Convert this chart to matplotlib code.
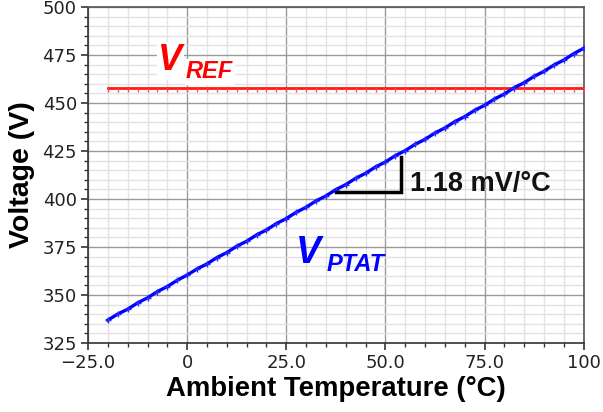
import matplotlib
matplotlib.use("Agg")
import matplotlib.pyplot as plt
from matplotlib.ticker import MultipleLocator, FixedLocator, FixedFormatter

# ---- data ----
temp_c = [-20, -17.5, -15, -12.5, -10, -7.5, -5, -2.5, 0, 2.5, 5, 7.5, 10, 12.5, 15, 17.5,
          20, 22.5, 25, 27.5, 30, 32.5, 35, 37.5, 40, 42.5, 45, 47.5, 50, 52.5, 55, 57.5,
          60, 62.5, 65, 67.5, 70, 72.5, 75, 77.5, 80, 82.5, 85, 87.5, 90, 92.5, 95, 97.5, 100]
v_ptat = [336.9, 340.1, 342.6, 345.9, 348.5, 351.8, 354.4, 357.7, 360.4, 363.6, 366.2, 369.5,
          372.1, 375.4, 378.0, 381.3, 383.9, 387.2, 389.8, 393.1, 395.7, 399.0, 401.6, 404.9,
          407.5, 410.8, 413.4, 416.7, 419.3, 422.6, 425.2, 428.5, 431.1, 434.4, 437.0, 440.3,
          442.9, 446.2, 448.8, 452.1, 454.7, 458.0, 460.6, 463.9, 466.5, 469.8, 472.4, 475.7, 478.5]
v_ref = [457.6] * len(temp_c)

x_ticks = [-25, 0, 25, 50, 75, 100]
x_tick_labels = ["\u221225.0", "0", "25.0", "50.0", "75.0", "100"]
y_ticks = [325, 350, 375, 400, 425, 450, 475, 500]
y_tick_labels = ["325", "350", "375", "400", "425", "450", "475", "500"]

# slope annotation triangle (data coords)
tri_x = [37.5, 54.0, 54.0]
tri_y = [403.4, 403.4, 421.7]

fig = plt.figure(figsize=(6.03, 4.12), dpi=100)
ax = fig.add_axes([0.146, 0.1675, 0.822, 0.8155])

ax.set_xlim(-25, 100)
ax.set_ylim(325, 500)

ax.xaxis.set_major_locator(FixedLocator(x_ticks))
ax.xaxis.set_major_formatter(FixedFormatter(x_tick_labels))
ax.yaxis.set_major_locator(FixedLocator(y_ticks))
ax.yaxis.set_major_formatter(FixedFormatter(y_tick_labels))
ax.xaxis.set_minor_locator(MultipleLocator(5))
ax.yaxis.set_minor_locator(MultipleLocator(5))

ax.grid(which="minor", color="#e2e2e2", linewidth=1.0, zorder=0)
ax.grid(which="major", color="#9a9a9a", linewidth=1.0, zorder=0)
ax.set_axisbelow(True)

for s in ax.spines.values():
    s.set_color("#555555")
    s.set_linewidth(1.2)
ax.spines["left"].set_color("#333333")
ax.spines["bottom"].set_color("#333333")

ax.tick_params(which="major", direction="out", length=5, width=1.2, color="#333333",
               labelsize=13, pad=3, top=False, right=False)
ax.tick_params(which="minor", direction="out", length=3, width=1.0, color="#333333",
               top=False, right=False)
for lab in ax.get_xticklabels() + ax.get_yticklabels():
    lab.set_family("DejaVu Sans")
    lab.set_color("#222222")

# data lines
tick_down = [(0, 0), (0, -1)]
ax.plot(temp_c, v_ref, color="#ff1a1a", linewidth=2.0, marker=tick_down, markersize=6,
        markeredgewidth=1.0, markeredgecolor="#ff4d4d", zorder=3)
ax.plot(temp_c, v_ptat, color="#0000ff", linewidth=2.4, marker="+", markersize=5,
        markeredgewidth=1.0, markeredgecolor="#2a2aff", zorder=4)

# slope triangle
ax.plot(tri_x, tri_y, color="black", linewidth=2.5, solid_joinstyle="miter", zorder=5)

lf = ["Liberation Sans", "DejaVu Sans"]
ax.text(56.2, 404.0, "1.18 mV/\u00b0C", fontsize=19.5, fontweight="bold", family=lf,
        color="#111111", ha="left", va="baseline", zorder=6)

# V_REF label
ax.text(-7.3, 467.0, "V", fontsize=26, fontweight="bold", style="italic", family=lf,
        color="#ff0000", ha="left", va="baseline", zorder=6,
        bbox=dict(facecolor="white", edgecolor="none", pad=1))
ax.text(-0.3, 462.8, "REF", fontsize=17, fontweight="bold", style="italic", family=lf,
        color="#ff0000", ha="left", va="baseline", zorder=6,
        bbox=dict(facecolor="white", edgecolor="none", pad=1))

# V_PTAT label
ax.text(27.5, 366.8, "V", fontsize=27, fontweight="bold", style="italic", family=lf,
        color="#0000ff", ha="left", va="baseline", zorder=6)
ax.text(35.2, 362.4, "PTAT", fontsize=17, fontweight="bold", style="italic", family=lf,
        color="#0000ff", ha="left", va="baseline", zorder=6)

ax.set_xlabel("Ambient Temperature (\u00b0C)", fontsize=19.8, fontweight="bold", family=lf,
              labelpad=3)
ax.set_ylabel("Voltage (V)", fontsize=20.5, fontweight="bold", family=lf, labelpad=5)

fig.savefig("out.png", dpi=100)
